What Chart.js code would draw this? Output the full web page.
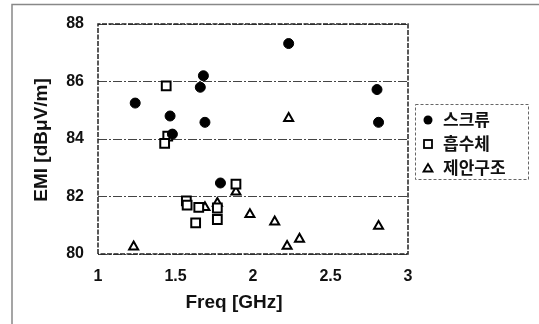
<!DOCTYPE html>
<html><head><meta charset="utf-8">
<script src="https://cdn.jsdelivr.net/npm/chart.js@4"></script>
<style>html,body{margin:0;padding:0;background:#fff}#wrap{width:539px;height:324px}</style>
</head><body><div id="wrap"><canvas id="c" width="539" height="324"></canvas></div>
<script>
const seriesNames = ['스크류', '흡수체', '제안구조'];
const screwFreq = [1.24, 1.465, 1.48, 1.66, 1.68, 1.69, 1.79, 2.23, 2.80, 2.81];
const screwEmi  = [85.25, 84.8, 84.17, 85.8, 86.2, 84.58, 82.47, 87.32, 85.72, 84.58];
const absFreq = [1.44, 1.45, 1.43, 1.57, 1.575, 1.65, 1.77, 1.77, 1.63, 1.89];
const absEmi  = [85.85, 84.1, 83.85, 81.85, 81.7, 81.62, 81.6, 81.2, 81.08, 82.43];
const propFreq = [1.23, 1.69, 1.77, 1.89, 1.98, 2.14, 2.22, 2.30, 2.81, 2.23];
const propEmi  = [80.25, 81.62, 81.77, 82.16, 81.38, 81.12, 80.27, 80.52, 80.97, 84.72];
const xTicks = [1, 1.5, 2, 2.5, 3];
const xTickLabels = ['1', '1.5', '2', '2.5', '3'];
const yTicks = [80, 82, 84, 86, 88];
const yTickLabels = ['80', '82', '84', '86', '88'];
const xTitle = 'Freq [GHz]';
const yTitle = 'EMI [dB\u03bcV/m]';

const pts = (xs, ys) => xs.map((x, i) => ({x, y: ys[i]}));

const framePlugin = {
  id: 'frame',
  beforeDraw(chart) {
    const ctx = chart.ctx;
    ctx.save();
    ctx.strokeStyle = '#888'; ctx.lineWidth = 1.5;
    ctx.beginPath(); ctx.moveTo(12, 324); ctx.lineTo(12, 4.5); ctx.lineTo(539, 4.5); ctx.stroke();
    ctx.restore();
  },
  afterDraw(chart) {
    const ctx = chart.ctx, a = chart.chartArea;
    ctx.save();
    ctx.strokeStyle = '#222'; ctx.lineWidth = 1.5; ctx.setLineDash([5, 1.5]);
    ctx.beginPath(); ctx.moveTo(a.left, a.bottom); ctx.lineTo(a.left, a.top); ctx.lineTo(a.right, a.top); ctx.lineTo(a.right, a.bottom); ctx.lineTo(a.left, a.bottom); ctx.stroke();
    ctx.setLineDash([]);
    ctx.fillStyle = '#111';
    ctx.font = 'bold 19px "Liberation Sans", Arial, sans-serif';
    ctx.textAlign = 'center'; ctx.textBaseline = 'middle';
    ctx.fillText(xTitle, 234, 303);
    ctx.translate(42, 140); ctx.rotate(-Math.PI / 2);
    ctx.fillText(yTitle, 0, 0);
    ctx.setTransform(1, 0, 0, 1, 0, 0);
    const bx = 415.5, by = 104.5, bw = 113, bh = 75;
    ctx.strokeStyle = '#666'; ctx.lineWidth = 1; ctx.setLineDash([3, 2]);
    ctx.strokeRect(bx, by, bw, bh);
    ctx.setLineDash([]);
    const rows = [120, 144, 168];
    chart.data.datasets.forEach((ds, i) => {
      const y = rows[i];
      ctx.strokeStyle = '#000'; ctx.lineWidth = 1.8;
      ctx.beginPath();
      if (ds.pointStyle === 'circle') { ctx.fillStyle = '#000'; ctx.arc(428, y, 4.5, 0, Math.PI * 2); ctx.fill(); }
      else if (ds.pointStyle === 'rect') { ctx.fillStyle = '#fff'; ctx.fillRect(424, y - 4, 8, 8); ctx.strokeRect(424, y - 4, 8, 8); }
      else { ctx.fillStyle = '#fff'; ctx.moveTo(428, y - 4); ctx.lineTo(432.5, y + 3.5); ctx.lineTo(423.5, y + 3.5); ctx.closePath(); ctx.fill(); ctx.stroke(); }
      ctx.fillStyle = '#111';
      ctx.font = 'bold 17px "Noto Sans CJK KR", sans-serif';
      ctx.textAlign = 'left'; ctx.textBaseline = 'middle';
      ctx.fillText(ds.label, 443, y);
    });
    ctx.restore();
  }
};

new Chart(document.getElementById('c'), {
  type: 'scatter',
  data: {
    datasets: [
      { label: seriesNames[0], data: pts(screwFreq, screwEmi), pointStyle: 'circle', pointRadius: 5,
        backgroundColor: '#000', borderColor: '#000', borderWidth: 1 },
      { label: seriesNames[1], data: pts(absFreq, absEmi), pointStyle: 'rect', pointRadius: 6.2,
        backgroundColor: '#fff', borderColor: '#000', borderWidth: 2 },
      { label: seriesNames[2], data: pts(propFreq, propEmi), pointStyle: 'triangle', pointRadius: 5.2,
        backgroundColor: '#fff', borderColor: '#000', borderWidth: 2 }
    ]
  },
  options: {
    responsive: false, animation: false, devicePixelRatio: 1,
    layout: { padding: { left: 0, right: 131, top: 24, bottom: 0 } },
    plugins: { legend: { display: false }, tooltip: { enabled: false } },
    scales: {
      x: {
        type: 'linear', min: 1, max: 3,
        afterFit: s => { s.height = 70; },
        afterBuildTicks: s => { s.ticks = xTicks.map(v => ({value: v})); },
        grid: { display: false },
        border: { display: false },
        ticks: { color: '#111', padding: 5, maxRotation: 0,
          font: { family: '"Liberation Sans", Arial, sans-serif', size: 16, weight: 'bold' },
          callback: (v) => { const i = xTicks.indexOf(v); return i >= 0 ? xTickLabels[i] : ''; } }
      },
      y: {
        type: 'linear', min: 80, max: 88,
        afterFit: s => { s.width = 98; },
        afterBuildTicks: s => { s.ticks = yTicks.map(v => ({value: v})); },
        grid: { display: true, color: '#444', lineWidth: 1, drawTicks: false, tickLength: 0 },
        border: { display: false, dash: [9, 2, 2, 2] },
        ticks: { color: '#111', padding: 14,
          font: { family: '"Liberation Sans", Arial, sans-serif', size: 16, weight: 'bold' },
          callback: (v) => { const i = yTicks.indexOf(v); return i >= 0 ? yTickLabels[i] : ''; } }
      }
    }
  },
  plugins: [framePlugin]
});
</script></body></html>
